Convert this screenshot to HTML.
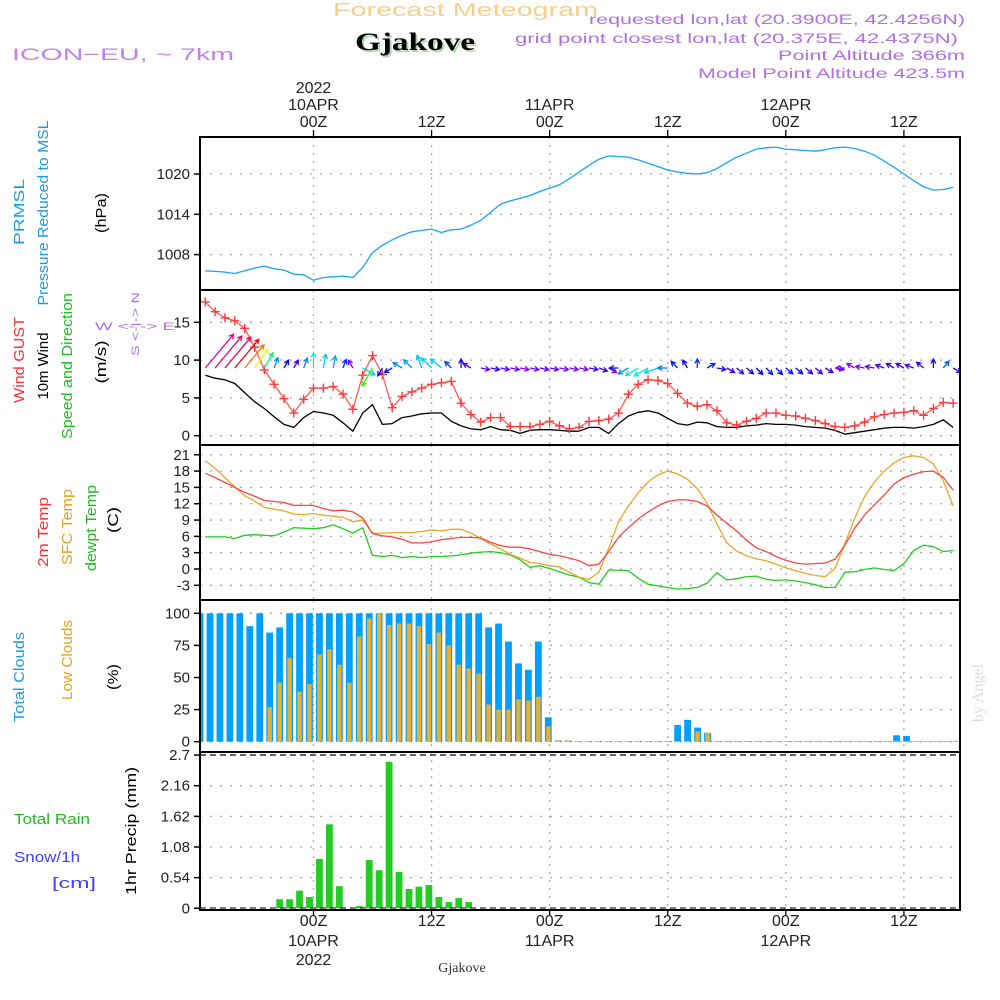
<!DOCTYPE html>
<html><head><meta charset="utf-8"><title>Forecast Meteogram Gjakove</title>
<style>
html,body{margin:0;padding:0;background:#fff;}
svg{display:block;font-family:"Liberation Sans",sans-serif;}
</style></head>
<body>
<svg id="chart" width="1000" height="1000" viewBox="0 0 1000 1000" xmlns="http://www.w3.org/2000/svg">
<defs>
<clipPath id="cpP"><rect x="200" y="138" width="760" height="151"/></clipPath>
<clipPath id="cpW"><rect x="200" y="291" width="760" height="153"/></clipPath>
<clipPath id="cpT"><rect x="200" y="446" width="760" height="153"/></clipPath>
<clipPath id="cpC"><rect x="201" y="601" width="758" height="150"/></clipPath>
<clipPath id="cpR"><rect x="201" y="756" width="758" height="153"/></clipPath>
</defs>
<rect x="0" y="0" width="1000" height="1000" fill="#fff"/>
<g id="grid"></g>
<g id="marks"></g>
<g id="frame"></g>
<g id="labels" font-size="15" fill="#222">
<text x="333" y="16" font-size="18" fill="#f5cf8e" textLength="265" lengthAdjust="spacingAndGlyphs">Forecast Meteogram</text>
<text x="357" y="52" font-family="Liberation Serif,serif" font-weight="bold" font-size="25" fill="#b8d0b8" textLength="120" lengthAdjust="spacingAndGlyphs">Gjakove</text>
<text x="355" y="50" font-family="Liberation Serif,serif" font-weight="bold" font-size="25" fill="#000" textLength="120" lengthAdjust="spacingAndGlyphs">Gjakove</text>
<text x="12" y="60" font-size="17" fill="#c080f0" textLength="222" lengthAdjust="spacingAndGlyphs">ICON−EU, ~ 7km</text>
<text x="965" y="24" font-size="14" fill="#b070e0" text-anchor="end" textLength="376" lengthAdjust="spacingAndGlyphs">requested lon,lat (20.3900E, 42.4256N)</text>
<text x="958" y="43" font-size="14" fill="#b070e0" text-anchor="end" textLength="443" lengthAdjust="spacingAndGlyphs">grid point closest lon,lat (20.375E, 42.4375N)</text>
<text x="965" y="60" font-size="14" fill="#b070e0" text-anchor="end" textLength="187" lengthAdjust="spacingAndGlyphs">Point Altitude 366m</text>
<text x="965" y="78" font-size="14" fill="#b070e0" text-anchor="end" textLength="267" lengthAdjust="spacingAndGlyphs">Model Point Altitude 423.5m</text>

<text transform="translate(24,212) rotate(-90)" text-anchor="middle" fill="#1e9be8" textLength="66" lengthAdjust="spacingAndGlyphs">PRMSL</text>
<text transform="translate(48,213) rotate(-90)" text-anchor="middle" fill="#1e9be8" textLength="185" lengthAdjust="spacingAndGlyphs">Pressure Reduced to MSL</text>
<text transform="translate(106,213) rotate(-90)" text-anchor="middle" fill="#000" textLength="40" lengthAdjust="spacingAndGlyphs">(hPa)</text>

<text transform="translate(24,360) rotate(-90)" text-anchor="middle" fill="#ff3030" textLength="86" lengthAdjust="spacingAndGlyphs">Wind GUST</text>
<text transform="translate(48,366) rotate(-90)" text-anchor="middle" fill="#000" textLength="67" lengthAdjust="spacingAndGlyphs">10m Wind</text>
<text transform="translate(72,366) rotate(-90)" text-anchor="middle" fill="#22bb22" textLength="146" lengthAdjust="spacingAndGlyphs">Speed and Direction</text>
<text transform="translate(106,362) rotate(-90)" text-anchor="middle" fill="#000" textLength="43" lengthAdjust="spacingAndGlyphs">(m/s)</text>
<text transform="translate(139,324) rotate(-90)" text-anchor="middle" font-size="11" fill="#b070e0" textLength="64" lengthAdjust="spacingAndGlyphs">S &lt;-|-&gt; N</text>
<text x="135" y="330" text-anchor="middle" font-size="11" fill="#b070e0" textLength="80" lengthAdjust="spacingAndGlyphs">W  &lt;-      -&gt;  E</text>

<text transform="translate(48,532) rotate(-90)" text-anchor="middle" fill="#ff3030" textLength="70" lengthAdjust="spacingAndGlyphs">2m Temp</text>
<text transform="translate(72,527) rotate(-90)" text-anchor="middle" fill="#e8a020" textLength="76" lengthAdjust="spacingAndGlyphs">SFC Temp</text>
<text transform="translate(96,528) rotate(-90)" text-anchor="middle" fill="#22bb22" textLength="86" lengthAdjust="spacingAndGlyphs">dewpt Temp</text>
<text transform="translate(118,520) rotate(-90)" text-anchor="middle" fill="#000" textLength="26" lengthAdjust="spacingAndGlyphs">(C)</text>

<text transform="translate(24,677) rotate(-90)" text-anchor="middle" fill="#1e9be8" textLength="90" lengthAdjust="spacingAndGlyphs">Total Clouds</text>
<text transform="translate(72,660) rotate(-90)" text-anchor="middle" fill="#e8a020" textLength="80" lengthAdjust="spacingAndGlyphs">Low Clouds</text>
<text transform="translate(118,677) rotate(-90)" text-anchor="middle" fill="#000" textLength="26" lengthAdjust="spacingAndGlyphs">(%)</text>

<text transform="translate(136,831) rotate(-90)" text-anchor="middle" fill="#000" textLength="128" lengthAdjust="spacingAndGlyphs">1hr Precip (mm)</text>
<text x="14" y="824" fill="#22bb22" textLength="76" lengthAdjust="spacingAndGlyphs">Total  Rain</text>
<text x="14" y="862" fill="#4040ff" textLength="66" lengthAdjust="spacingAndGlyphs">Snow/1h</text>
<text x="52" y="888" fill="#4040ff" textLength="44" lengthAdjust="spacingAndGlyphs">[cm]</text>

<text transform="translate(983,693) rotate(-90)" text-anchor="middle" font-family="Liberation Serif,serif" font-size="16" fill="#dcdcdc">by Angel</text>
<text x="462" y="972" text-anchor="middle" font-family="Liberation Serif,serif" font-size="14" fill="#333">Gjakove</text>
</g>
</svg>
<script>
// ---------- data (hour offsets relative to 10APR 00Z) ----------
const startHour = -11;
const timeTickHours = [0, 12, 24, 36, 48, 60];
const timeTickLabels = ["00Z", "12Z", "00Z", "12Z", "00Z", "12Z"];
const dateTickLabels = ["10APR", "", "11APR", "", "12APR", ""];
const pressure = [1005.6,1005.5,1005.4,1005.2,1005.6,1006.0,1006.3,1005.9,1005.7,1005.1,1005.0,
1004.2,1004.6,1004.7,1004.8,1004.6,1006.1,1008.3,1009.4,1010.2,1010.9,
1011.4,1011.6,1011.8,1011.3,1011.7,1011.8,1012.4,1013.1,1014.3,1015.5,
1016.0,1016.4,1016.8,1017.4,1017.9,1018.4,1019.3,1020.3,1021.3,1022.2,
1022.7,1022.6,1022.5,1022.1,1021.6,1021.1,1020.6,1020.3,1020.1,1020.0,
1020.2,1020.8,1021.7,1022.5,1023.1,1023.7,1023.9,1024.0,1023.7,1023.6,
1023.5,1023.4,1023.6,1023.9,1024.0,1023.8,1023.4,1022.8,1021.9,1021.0,
1020.0,1019.0,1018.1,1017.6,1017.7,1018.0];
const pressureTicks = [1008, 1014, 1020];
const windGust = [17.7,16.4,15.6,15.2,14.2,11.7,8.7,6.8,4.9,3.0,4.8,
6.3,6.3,6.5,5.5,3.5,8.0,10.6,8.1,3.7,5.2,
5.8,6.3,6.8,7.0,7.2,4.3,2.8,1.8,2.4,2.4,
1.2,1.2,1.2,1.5,1.9,1.3,0.9,1.1,1.9,
2.0,2.2,3.0,5.5,6.8,7.4,7.3,6.9,5.6,4.3,
3.9,4.1,3.3,1.7,1.4,1.9,2.3,3.0,3.0,2.7,
2.6,2.3,2.0,1.6,1.2,1.1,1.3,1.8,2.5,2.8,
3.0,3.1,3.3,2.7,3.6,4.4,4.3];
const windSpeed = [8.0,7.6,7.4,6.9,5.7,4.5,3.6,2.5,1.5,1.1,2.4,
3.2,3.0,2.7,1.7,0.6,3.0,4.1,1.5,1.6,2.4,
2.6,2.9,3.0,3.0,1.9,1.3,0.9,0.8,1.2,0.8,
0.7,0.3,0.7,0.8,0.8,0.7,0.6,0.6,1.1,
1.1,0.3,1.6,2.6,3.1,3.3,3.0,2.3,1.6,1.4,
1.8,1.7,1.2,1.1,1.1,1.3,1.4,1.6,1.5,1.5,
1.4,1.2,1.1,1.0,0.7,0.2,0.4,0.6,0.8,1.0,
1.1,1.1,1.0,1.2,1.5,2.1,1.1];
const windDir = [40,40,40,40,40,35,30,20,30,30,20,
0,10,10,20,-30,120,210,210,240,-60,
-45,-20,-45,-50,-45,0,-60,100,100,100,
100,100,100,100,100,100,100,100,100,
110,120,270,240,240,240,250,270,-45,-30,
0,60,100,120,130,130,135,135,135,130,
130,130,130,120,100,270,300,280,280,290,
300,300,290,310,0,40,120];
const windTicks = [0, 5, 10, 15];
const temp2m = [17.6,16.8,15.9,15.0,14.1,13.4,12.6,12.4,12.2,11.7,11.7,11.7,11.1,10.7,10.8,10.5,9.4,6.5,6.1,5.9,5.5,4.8,4.8,5.0,5.4,5.6,5.8,5.8,5.7,4.9,4.3,4.0,4.0,3.7,3.2,2.7,2.4,2.0,1.5,
0.6,0.9,3.2,5.8,7.6,9.2,10.5,11.6,12.4,12.7,12.7,12.4,11.6,9.9,8.4,7.0,5.3,3.9,3.2,2.3,1.6,1.1,0.9,1.0,1.1,1.8,4.4,7.5,9.9,11.8,13.6,15.6,16.8,17.4,17.9,18.0,16.8,14.5];
const tempSfc = [19.9,18.5,16.8,15.1,13.5,12.5,11.3,11.0,10.7,10.1,10.0,10.2,9.9,9.7,9.5,8.7,9.0,6.6,6.6,6.7,6.7,6.7,6.9,7.2,7.0,7.3,7.3,6.6,5.6,4.6,3.7,2.7,2.0,1.2,1.0,0.6,0.4,-0.6,-1.5,
-1.9,-0.6,3.8,8.7,11.6,14.0,16.0,17.3,18.0,17.5,16.5,14.8,12.1,8.3,4.8,3.3,2.4,1.9,1.5,0.9,0.2,-0.3,-0.8,-1.2,-1.4,0.1,4.7,9.3,13.3,16.0,18.0,19.5,20.5,20.8,20.5,19.3,16.2,11.6];
const tempDew = [5.9,5.9,5.9,5.6,6.2,6.3,6.2,6.1,6.8,7.6,7.5,7.4,7.6,8.1,7.4,6.6,7.6,2.5,2.3,2.5,2.1,2.3,2.1,2.3,2.3,2.4,2.6,2.9,3.1,3.2,3.0,2.6,1.7,0.3,0.6,0.1,-0.5,-1.1,-1.5,
-2.5,-2.8,-0.2,-0.2,-0.3,-1.7,-2.8,-3.1,-3.4,-3.7,-3.6,-3.4,-2.6,-0.7,-2.0,-1.8,-1.4,-1.3,-1.9,-2.1,-2.0,-2.2,-2.5,-2.9,-3.4,-3.4,-0.6,-0.5,-0.1,0.2,-0.1,-0.3,1.0,3.4,4.4,4.1,3.2,3.4];
const tempTicks = [-3, 0, 3, 6, 9, 12, 15, 18, 21];
const totalClouds = [100,100,100,100,100,90,100,85,89,100,100,
100,100,100,100,100,100,100,100,100,100,
100,100,100,100,100,100,100,100,89,92,
78,61,56,78,19,1,1,0.5,0.5,0.5,
0.5,0.5,0.5,0.5,0.5,0.5,0.5,13,17,11,
7,0.5,0.5,0.5,0.5,0.5,0.5,0.5,0.5,0.5,
0.5,0.5,0.5,0.5,0.5,0.5,0.5,0.5,0.5,5,
4.4,0.5,0.5,0.5,0.5,0.5];
const lowClouds = [0,0,0,0,0,0,0,27,46,65,39,
45,68,72,60,46,82,96,100,91,92,
92,90,76,85,75,60,57,53,29,25,
25,33,32,35,12,1,1,0.5,0.5,0.5,
0.5,0.5,0.5,0.5,0.5,0.5,0.5,0.5,0.5,8,
7,0.5,0.5,0.5,0.5,0.5,0.5,0.5,0.5,0.5,
0.5,0.5,0.5,0.5,0.5,0.5,0.5,0.5,0.5,0.5,
0.5,0.5,0.5,0.5,0.5,0.5];
const cloudTicks = [0, 25, 50, 75, 100];
const precip = [0,0,0,0,0,0,0,0,0.16,0.16,0.31,
0.2,0.87,1.48,0.39,0,0.04,0.85,0.67,2.58,0.64,
0.34,0.38,0.41,0.2,0.11,0.18,0.11,0,0,0,
0,0,0,0,0,0,0,0,0,0,
0,0,0,0,0,0,0,0,0,0,
0,0,0,0,0,0,0,0,0,0,
0,0,0,0,0,0,0,0,0,0,
0,0,0,0,0,0];
const precipTicks = [0, 0.54, 1.08, 1.62, 2.16, 2.7];
const precipTickLabels = ["0", "0.54", "1.08", "1.62", "2.16", "2.7"];
const speedStops = [0.5, 1.7, 3, 4, 4.5, 5.7, 6.9, 8];
const speedHues = [275, 230, 190, 120, 60, 30, -5, -35];

// ---------- axes ----------
const xl = h => 313.5 + 9.84 * h;
const xb = h => 309.5 + 9.95 * h;
const yP = p => 174 + (1020 - p) * 6.72;
const yW = v => 435.7 - v * 7.56;
const yT = t => 569 - 5.44 * t;
const yC = c => 741.7 - c * 1.284;
const yR = r => 908.3 - r * 56.76;
const hourAt = i => startHour + i;

const NS = "http://www.w3.org/2000/svg";
function mk(parent, tag, attrs, text) {
  const e = document.createElementNS(NS, tag);
  for (const k in attrs) e.setAttribute(k, attrs[k]);
  if (text !== undefined) e.textContent = text;
  parent.appendChild(e);
  return e;
}
const grid = document.getElementById('grid');
const marks = document.getElementById('marks');
const frame = document.getElementById('frame');
const labels = document.getElementById('labels');

// ---------- gridlines ----------
const panels = [[137, 290], [290, 445], [445, 600], [600, 752], [752, 910]];
timeTickHours.forEach(h => {
  panels.forEach(p => {
    const g = mk(grid, 'line', {x1: xl(h), x2: xl(h), y1: p[0], y2: p[1], stroke: '#aaa', 'stroke-width': 1.3, 'stroke-dasharray': '2 6'});
    
    
  });
});
function hGrid(ticks, yf, fmt, name) {
  ticks.forEach((t, i) => {
    const g = mk(grid, 'line', {x1: 200, x2: 960, y1: yf(t), y2: yf(t), stroke: '#aaa', 'stroke-width': 1.3, 'stroke-dasharray': '2 8'});
    
    
    const tk = mk(frame, 'line', {x1: 194, x2: 200, y1: yf(t), y2: yf(t), stroke: '#000', 'stroke-width': 1.5});
    
    
    const lb = mk(labels, 'text', {x: 190, y: yf(t) + 5, 'text-anchor': 'end', 'font-size': 15, fill: '#222'}, fmt(t, i));
    
    
  });
}
hGrid(pressureTicks, yP, t => String(t), 'pressure');
hGrid(windTicks, yW, t => String(t), 'wind');
hGrid(tempTicks, yT, t => String(t), 'temp');
hGrid(cloudTicks, yC, t => String(t), 'cloud');
hGrid(precipTicks, yR, (t, i) => precipTickLabels[i], 'precip');

// ---------- series helpers ----------
function polyline(vals, yf, color, clip, name, w) {
  const pts = vals.map((v, i) => xl(hourAt(i)).toFixed(1) + ',' + yf(v).toFixed(1)).join(' ');
  const pl = mk(marks, 'polyline', {points: pts, fill: 'none', stroke: color, 'stroke-width': w || 1.3, 'clip-path': 'url(#' + clip + ')', 'stroke-linejoin': 'round'});
  
  
}
polyline(pressure, yP, '#1aa3ff', 'cpP', 'pressure-line');
polyline(windSpeed, yW, '#000', 'cpW', 'wind-speed-line');
polyline(windGust, yW, '#ff5a5a', 'cpW', 'wind-gust-line');
windGust.forEach((v, i) => {
  const x = xl(hourAt(i)), y = yW(v);
  const p = mk(marks, 'path', {d: `M${x - 4.5},${y}H${x + 4.5}M${x},${y - 4.5}V${y + 4.5}`, stroke: '#ff3a3a', 'stroke-width': 1.4, 'clip-path': 'url(#cpW)'});
  
  
});

function speedColor(s) {
  let hue = speedHues[0];
  if (s >= speedStops[speedStops.length - 1]) hue = speedHues[speedHues.length - 1];
  else for (let k = 0; k < speedStops.length - 1; k++) {
    if (s >= speedStops[k] && s < speedStops[k + 1]) {
      const f = (s - speedStops[k]) / (speedStops[k + 1] - speedStops[k]);
      hue = speedHues[k] + f * (speedHues[k + 1] - speedHues[k]);
    }
  }
  hue = (hue + 360) % 360;
  return `hsl(${hue.toFixed(0)},100%,48%)`;
}
windDir.forEach((d, i) => {
  const s = windSpeed[i];
  const x0 = xl(hourAt(i)), y0 = 368;
  const L = Math.max(9, 6 * s - 4);
  const a = d * Math.PI / 180;
  const x1 = x0 + L * Math.sin(a), y1 = y0 - L * Math.cos(a);
  const hl = 5;
  const b1 = a + Math.PI - 0.5, b2 = a + Math.PI + 0.5;
  const dd = `M${x0.toFixed(1)},${y0}L${x1.toFixed(1)},${y1.toFixed(1)}M${(x1 + hl * Math.sin(b1)).toFixed(1)},${(y1 - hl * Math.cos(b1)).toFixed(1)}L${x1.toFixed(1)},${y1.toFixed(1)}L${(x1 + hl * Math.sin(b2)).toFixed(1)},${(y1 - hl * Math.cos(b2)).toFixed(1)}`;
  const ar = mk(marks, 'path', {d: dd, stroke: speedColor(s), 'stroke-width': 1.3, fill: 'none', 'clip-path': 'url(#cpW)'});
  
  
});

polyline(tempDew, yT, '#22cc22', 'cpT', 'dewpoint-line');
polyline(tempSfc, yT, '#eaa62a', 'cpT', 'sfc-temp-line');
polyline(temp2m, yT, '#ff4444', 'cpT', 'temp-2m-line');

totalClouds.forEach((v, i) => {
  const h = hourAt(i);
  const r = mk(marks, 'rect', {x: xb(h) - 3.4, y: yC(v), width: 6.8, height: yC(0) - yC(v), fill: '#00a0ff', 'clip-path': 'url(#cpC)'});
  
  
});
lowClouds.forEach((v, i) => {
  const h = hourAt(i);
  if (v <= 0) return;
  const r = mk(marks, 'rect', {x: xb(h) - 2.2, y: yC(v), width: 4.4, height: yC(0) - yC(v), fill: '#e8b030', 'clip-path': 'url(#cpC)'});
  
  
});
precip.forEach((v, i) => {
  const h = hourAt(i);
  if (v <= 0) return;
  const r = mk(marks, 'rect', {x: xb(h) - 3.4, y: yR(v), width: 6.8, height: yR(0) - yR(v), fill: '#22cc22', 'clip-path': 'url(#cpR)'});
  
  
});

// ---------- frame ----------
const outer = mk(frame, 'rect', {x: 200, y: 137, width: 760, height: 773, fill: 'none', stroke: '#000', 'stroke-width': 2});


[290, 445, 600, 752].forEach(y => {
  const l = mk(frame, 'line', {x1: 200, x2: 960, y1: y, y2: y, stroke: '#000', 'stroke-width': 2});
  
  
});
const dsh = mk(frame, 'line', {x1: 200, x2: 960, y1: 755, y2: 755, stroke: '#333', 'stroke-width': 1.5, 'stroke-dasharray': '6 4'});


const base = mk(frame, 'line', {x1: 200, x2: 960, y1: 908, y2: 908, stroke: '#333', 'stroke-width': 1.2, 'stroke-dasharray': '6 4'});



timeTickHours.forEach((h, i) => {
  const x = xl(h);
  const t1 = mk(frame, 'line', {x1: x, x2: x, y1: 130, y2: 137, stroke: '#000', 'stroke-width': 1.3});
  
  
  const t2 = mk(frame, 'line', {x1: x, x2: x, y1: 910, y2: 916, stroke: '#000', 'stroke-width': 1.3});
  
  
  const a = mk(labels, 'text', {x: x, y: 127, 'text-anchor': 'middle', 'font-size': 16, fill: '#222'}, timeTickLabels[i]);
  
  
  const b = mk(labels, 'text', {x: x, y: 926, 'text-anchor': 'middle', 'font-size': 16, fill: '#222'}, timeTickLabels[i]);
  
  
  if (dateTickLabels[i]) {
    const c = mk(labels, 'text', {x: x, y: 110, 'text-anchor': 'middle', 'font-size': 16, fill: '#222'}, dateTickLabels[i]);
    
    
    const d = mk(labels, 'text', {x: x, y: 946, 'text-anchor': 'middle', 'font-size': 16, fill: '#222'}, dateTickLabels[i]);
    
    
  }
});
const y1 = mk(labels, 'text', {x: xl(0), y: 93, 'text-anchor': 'middle', 'font-size': 16, fill: '#222'}, '2022');


const y2 = mk(labels, 'text', {x: xl(0), y: 965, 'text-anchor': 'middle', 'font-size': 16, fill: '#222'}, '2022');


</script>
</body></html>
